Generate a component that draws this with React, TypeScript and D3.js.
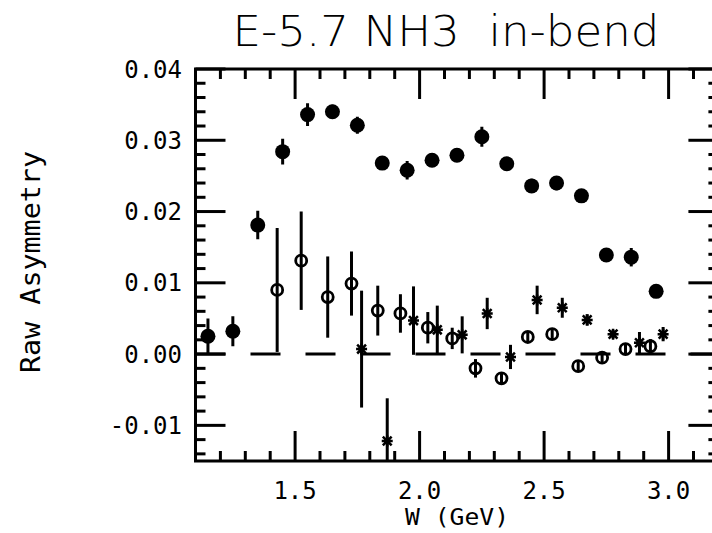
import React from "react";
import * as d3 from "d3";

// ---- data ----
const filledW = [1.15, 1.25, 1.35, 1.45, 1.55, 1.65, 1.75, 1.85, 1.95, 2.05, 2.15, 2.25, 2.35, 2.45, 2.55, 2.65, 2.75, 2.85, 2.95];
const filledVal = [0.0025, 0.0032, 0.0181, 0.0284, 0.0336, 0.034, 0.0321, 0.0268, 0.0258, 0.0272, 0.0279, 0.0305, 0.0267, 0.0236, 0.024, 0.0222, 0.0139, 0.0136, 0.0088];
const filledErr = [0.0025, 0.0021, 0.002, 0.0018, 0.0016, 0.001, 0.0012, 0.0008, 0.0013, 0.0008, 0.0008, 0.0014, 0.0008, 0.001, 0.001, 0.0008, 0.0008, 0.0013, 0.0008];

const openW = [1.428, 1.5245, 1.631, 1.7265, 1.832, 1.923, 2.033, 2.131, 2.2245, 2.329, 2.4345, 2.5325, 2.637, 2.733, 2.827, 2.927];
const openVal = [0.009, 0.0131, 0.008, 0.0099, 0.0061, 0.0057, 0.0037, 0.0022, -0.002, -0.0034, 0.0024, 0.0028, -0.0017, -0.0005, 0.0007, 0.0011];
const openErr = [0.0087, 0.0069, 0.0057, 0.0045, 0.0035, 0.0027, 0.0022, 0.0015, 0.0013, 0.0008, 0.0008, 0.0008, 0.0008, 0.0008, 0.0008, 0.001];

const starW = [1.767, 1.87, 1.9755, 2.071, 2.171, 2.2715, 2.365, 2.472, 2.573, 2.673, 2.777, 2.883, 2.978];
const starVal = [0.0007, -0.0122, 0.0047, 0.0034, 0.0027, 0.0057, -0.0004, 0.0076, 0.0065, 0.0048, 0.0028, 0.0016, 0.0028];
const starErr = [0.0082, 0.006, 0.0048, 0.0034, 0.0026, 0.0022, 0.0017, 0.002, 0.0014, 0.0008, 0.0006, 0.0015, 0.001];

const xTickLabels = ["1.5", "2.0", "2.5", "3.0"];
const yTickLabels = ["0.04", "0.03", "0.02", "0.01", "0.00", "-0.01"];

const TITLE = "E-5.7 NH3  in-bend";
const XLABEL = "W (GeV)";
const YLABEL = "Raw Asymmetry";

export default function App() {
  const W = 712, H = 533;
  const left = 195.5, right = 718.4, top = 69, bottom = 461;
  const x = d3.scaleLinear().domain([1.1, 3.2]).range([left, right]);
  const y = d3.scaleLinear().domain([-0.015, 0.04]).range([bottom, top]);

  const xMajor = xTickLabels.map(Number);
  const xMinor = d3.range(12, 32).map((v) => v / 10).filter((v) => !xMajor.some((m) => Math.abs(m - v) < 1e-9));
  const yMajor = yTickLabels.map(Number);
  const yMinor = d3.range(-7, 20).map((v) => v * 0.002).filter((v) => !yMajor.some((m) => Math.abs(m - v) < 1e-9) && v > -0.015 && v < 0.04);

  const sw = 3;
  const mono = "'DejaVu Sans Mono', monospace";

  const ticks: JSX.Element[] = [];
  xMajor.forEach((v, i) => {
    ticks.push(<line key={"xb" + i} x1={x(v)} x2={x(v)} y1={bottom} y2={bottom - 30} />);
    ticks.push(<line key={"xt" + i} x1={x(v)} x2={x(v)} y1={top} y2={top + 30} />);
  });
  xMinor.forEach((v, i) => {
    ticks.push(<line key={"xbm" + i} x1={x(v)} x2={x(v)} y1={bottom} y2={bottom - 10} />);
    ticks.push(<line key={"xtm" + i} x1={x(v)} x2={x(v)} y1={top} y2={top + 10} />);
  });
  yMajor.forEach((v, i) => {
    ticks.push(<line key={"yl" + i} x1={left} x2={left + 30} y1={y(v)} y2={y(v)} />);
    ticks.push(<line key={"yr" + i} x1={right} x2={right - 30} y1={y(v)} y2={y(v)} />);
  });
  yMinor.forEach((v, i) => {
    ticks.push(<line key={"ylm" + i} x1={left} x2={left + 10} y1={y(v)} y2={y(v)} />);
    ticks.push(<line key={"yrm" + i} x1={right} x2={right - 10} y1={y(v)} y2={y(v)} />);
  });

  const errBar = (k: string, w: number, v: number, e: number) => (
    <line key={k} x1={x(w)} x2={x(w)} y1={y(v - e)} y2={y(v + e)} />
  );

  const star = (cx: number, cy: number, r: number) => {
    const p = d3.path();
    p.moveTo(cx - r, cy); p.lineTo(cx + r, cy);
    p.moveTo(cx - r * 0.8, cy - r * 0.8); p.lineTo(cx + r * 0.8, cy + r * 0.8);
    p.moveTo(cx + r * 0.8, cy - r * 0.8); p.lineTo(cx - r * 0.8, cy + r * 0.8);
    p.moveTo(cx, cy - r); p.lineTo(cx, cy + r);
    return p.toString();
  };

  return (
    <svg width={W} height={H} viewBox={`0 0 ${W} ${H}`} style={{ position: "absolute", left: 0, top: 0, background: "#fff" }}>
      <defs>
        <clipPath id="plot">
          <rect x={left} y={top} width={right - left} height={bottom - top} />
        </clipPath>
      </defs>
      <rect x={0} y={0} width={W} height={H} fill="#fff" />
      {/* title */}
      <text x={446} y={46} fontFamily="'DejaVu Sans', sans-serif" fontWeight={200} fontSize={42} textAnchor="middle" textLength={427} lengthAdjust="spacingAndGlyphs" style={{ whiteSpace: "pre" }} xmlSpace="preserve">{TITLE}</text>

      {/* zero dashed line */}
      <line x1={left} x2={right} y1={y(0)} y2={y(0)} stroke="#000" strokeWidth={sw} strokeDasharray="30,25" />

      {/* data */}
      <g clipPath="url(#plot)" stroke="#000" strokeWidth={sw} fill="none">
        {filledW.map((w, i) => errBar("fe" + i, w, filledVal[i], filledErr[i]))}
        {openW.map((w, i) => errBar("oe" + i, w, openVal[i], openErr[i]))}
        {starW.map((w, i) => errBar("se" + i, w, starVal[i], starErr[i]))}
        {filledW.map((w, i) => (
          <circle key={"fc" + i} cx={x(w)} cy={y(filledVal[i])} r={7.5} fill="#000" stroke="none" />
        ))}
        {openW.map((w, i) => (
          <ellipse key={"oc" + i} cx={x(w)} cy={y(openVal[i])} rx={5.5} ry={5.5} fill="none" strokeWidth={2.8} />
        ))}
        {starW.map((w, i) => (
          <path key={"sc" + i} d={star(x(w), y(starVal[i]), 5.5)} strokeWidth={2.5} />
        ))}
      </g>

      {/* frame and ticks */}
      <g stroke="#000" strokeWidth={sw} fill="none">
        <rect x={left} y={top} width={right - left} height={bottom - top} />
        {ticks}
      </g>

      {/* tick labels */}
      <g fontFamily={mono} fontSize={24} fill="#000">
        {yTickLabels.map((t, i) => (
          <text key={"yt" + i} x={182} y={y(yMajor[i])} dy="0.36em" textAnchor="end">{t}</text>
        ))}
        {xTickLabels.map((t, i) => (
          <text key={"xt" + i} x={x(xMajor[i])} y={499} textAnchor="middle">{t}</text>
        ))}
        <text x={457} y={525} fontSize={23} textAnchor="middle" textLength={104} lengthAdjust="spacingAndGlyphs">{XLABEL}</text>
        <text transform={`translate(40,262) rotate(-90)`} textAnchor="middle" fontSize={27} textLength={222} lengthAdjust="spacingAndGlyphs">{YLABEL}</text>
      </g>
    </svg>
  );
}
